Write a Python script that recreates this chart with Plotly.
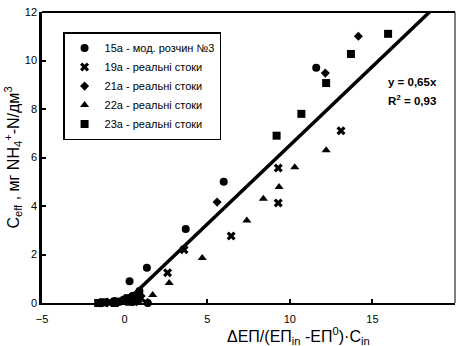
import plotly.graph_objects as go

# Sample series: x = ΔЕП/(ЕП_in-ЕП⁰)·C_in, y = C_eff (мг NH4+-N/дм3)
s15_x = [11.6, 6.0, 3.7, 1.35, 0.3, -0.3, 0.2, 0.5, 0.9, 1.4, -1.1, -0.6, 0.0, 0.7]
s15_y = [9.7, 5.0, 3.05, 1.45, 0.9, 0.05, 0.1, 0.3, 0.5, 0.0, 0.02, 0.08, 0.15, 0.2]

s19_x = [13.1, 9.3, 9.3, 6.45, 3.6, 2.6, -1.2, -0.5, 0.3, 1.0, -0.9, 0.1, 0.6]
s19_y = [7.1, 5.57, 4.12, 2.76, 2.2, 1.25, 0.0, 0.05, 0.15, 0.2, 0.04, 0.1, 0.05]

s21_x = [14.15, 12.15, 5.6, -1.5, -0.8, 0.1, 0.7, -0.2, 0.4, 0.9]
s21_y = [11.0, 9.48, 4.16, 0.0, 0.02, 0.05, 0.25, 0.1, 0.2, 0.35]

s22_x = [12.2, 10.3, 9.35, 8.4, 7.4, 4.7, 2.7, 1.7, 1.4, -1.0, 0.0, 0.6, -0.4, 0.3]
s22_y = [6.3, 5.6, 4.78, 4.3, 3.4, 1.86, 0.82, 0.33, 0.05, 0.0, 0.02, 0.1, 0.06, 0.25]

s23_x = [15.95, 13.7, 12.2, 10.7, 9.2, -1.6, -0.6, 0.4, -1.3, 0.2, 0.8]
s23_y = [11.1, 10.27, 9.07, 7.8, 6.9, 0.0, 0.0, 0.05, 0.03, 0.2, 0.15]

series_names = [
    "15а - мод. розчин №3",
    "19а - реальні стоки",
    "21а - реальні стоки",
    "22а - реальні стоки",
    "23а - реальні стоки",
]
series_symbols = ["circle", "x", "diamond", "triangle-up", "square"]
series_sizes = [8, 8, 7, 8, 8]

# Linear fit through the origin
slope = 0.65
r2 = 0.93
y_max = 12
fit_x = [0, y_max / slope]
fit_y = [slope * v for v in fit_x]

x_ticks = [-5, 0, 5, 10, 15, 20]
y_ticks = [0, 2, 4, 6, 8, 10, 12]

FONT = "Liberation Sans, Arial, sans-serif"

fig = go.Figure()

fig.add_trace(go.Scatter(
    x=fit_x, y=fit_y, mode="lines",
    line=dict(color="black", width=3.5),
    showlegend=False, hoverinfo="skip",
))

all_series = [(s15_x, s15_y), (s19_x, s19_y), (s21_x, s21_y), (s22_x, s22_y), (s23_x, s23_y)]
for (xs, ys), name, sym, sz in zip(all_series, series_names, series_symbols, series_sizes):
    fig.add_trace(go.Scatter(
        x=xs, y=ys, mode="markers", name=name,
        marker=dict(symbol=sym, size=sz, color="black", line=dict(width=0)),
        cliponaxis=False,
    ))

fig.update_layout(
    width=456, height=346,
    margin=dict(l=42, r=1, t=12, b=43),
    paper_bgcolor="white", plot_bgcolor="white",
    font=dict(family=FONT, size=11, color="black"),
    showlegend=True,
    legend=dict(
        x=0.051, y=0.931, xanchor="left", yanchor="top",
        bgcolor="white", bordercolor="black", borderwidth=1.5,
        font=dict(family=FONT, size=11, color="black"),
        itemwidth=30, tracegroupgap=0,
    ),
    xaxis=dict(
        range=[-5, 20], tickvals=x_ticks, ticks="inside", ticklen=4, tickwidth=1.5,
        tickcolor="black", showgrid=False, zeroline=False,
        showline=True, linecolor="black", linewidth=2,
        ticklabelstandoff=5,
        tickfont=dict(family=FONT, size=11, color="black"),
    ),
    yaxis=dict(
        range=[0, 12], tickvals=y_ticks, ticks="inside", ticklen=4, tickwidth=1.5,
        tickcolor="black", showgrid=False, zeroline=False,
        showline=True, linecolor="black", linewidth=2.5,
        tickfont=dict(family=FONT, size=11, color="black"),
        title=dict(
            text="C<sub>eff</sub> , мг NH<sub>4</sub><sup>+</sup>-N/дм<sup>3</sup>",
            font=dict(family=FONT, size=16, color="black"), standoff=2,
        ),
    ),
    shapes=[
        dict(type="line", xref="paper", yref="paper", x0=0, x1=1, y0=1, y1=1,
             line=dict(color="black", width=2)),
        dict(type="line", xref="paper", yref="paper", x0=1, x1=1, y0=0, y1=1,
             line=dict(color="black", width=1)),
    ],
    annotations=[
        dict(text="ΔЕП/(ЕП<sub>in</sub> -ЕП<sup>0</sup>)·C<sub>in</sub>",
             xref="paper", yref="paper", x=(298 - 42) / 413, y=(303 - 336) / 291,
             xanchor="center", yanchor="middle", showarrow=False,
             font=dict(family=FONT, size=16, color="black")),
        dict(text="<b>y = 0,65x</b>", xref="paper", yref="paper",
             x=(386 - 42) / 413, y=(303 - 82) / 291, xanchor="left", yanchor="middle",
             showarrow=False, font=dict(family=FONT, size=11.5, color="black")),
        dict(text="<b>R<sup>2</sup> = 0,93</b>", xref="paper", yref="paper",
             x=(386 - 42) / 413, y=(303 - 100) / 291, xanchor="left", yanchor="middle",
             showarrow=False, font=dict(family=FONT, size=11.5, color="black")),
    ],
)

fig.write_html("out.html")
